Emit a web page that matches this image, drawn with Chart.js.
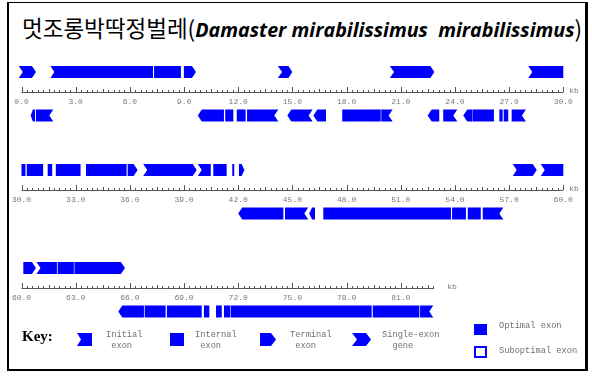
<!DOCTYPE html>
<html>
<head>
<meta charset="utf-8">
<script src="https://cdn.jsdelivr.net/npm/chart.js@4.4.1/dist/chart.umd.min.js"></script>
<style>
  body { margin: 0; width: 592px; height: 376px; position: relative; overflow: hidden; background: #fff; }
  #frame { position: absolute; left: 7px; top: 2px; width: 576px; height: 366px; border-style: solid; border-color: #000; border-width: 1px 3px 2px 2px; }
  #title { position: absolute; left: 22px; top: 12px; white-space: pre; line-height: 30px; }
  #title .ko { font-family: "Noto Sans CJK KR"; font-size: 22.5px; }
  #title .la { font-family: "Open Sans"; font-weight: bold; font-style: italic; font-size: 19.7px; }
  canvas { position: absolute; left: 0; }
  .k { position: absolute; font-family: "Liberation Mono", monospace; font-size: 8.7px; line-height: 11px; color: #707070; white-space: pre; }
  #keyword { position: absolute; left: 22px; top: 328px; font-family: "Liberation Serif"; font-weight: bold; font-size: 15px; }
  svg { position: absolute; left: 0; top: 0; }
</style>
</head>
<body>
<div id="frame"></div>
<div id="title"><span class="ko">멋조롱박딱정벌레(</span><span class="la">Damaster mirabilissimus  mirabilissimus</span><span class="ko">)</span></div>
<canvas id="row0" width="592" height="90" style="top:50px"></canvas>
<canvas id="row1" width="592" height="90" style="top:148px"></canvas>
<canvas id="row2" width="592" height="90" style="top:246px"></canvas>

<svg width="592" height="376">
  <polygon points="77,333 92,333 92,346 77,346 81,339.5" fill="#0000ff"/>
  <rect x="170" y="333" width="14" height="13" fill="#0000ff"/>
  <polygon points="260,333 271,333 276,339.5 271,346 260,346" fill="#0000ff"/>
  <polygon points="352,333 366,333 371,339.5 366,346 352,346 357,339.5" fill="#0000ff"/>
  <rect x="474" y="324" width="13" height="11" fill="#0000ff"/>
  <rect x="475" y="347" width="11" height="10" fill="none" stroke="#0000ff" stroke-width="2"/>
</svg>
<div id="keyword">Key:</div>
<div class="k" style="left:106px;top:330px">Initial
 exon</div>
<div class="k" style="left:195px;top:330px">Internal
 exon</div>
<div class="k" style="left:290px;top:330px">Terminal
 exon</div>
<div class="k" style="left:382px;top:330px">Single-exon
  gene</div>
<div class="k" style="left:499px;top:321px">Optimal exon</div>
<div class="k" style="left:499px;top:346px">Suboptimal exon</div>

<script>
// predicted exons, kb; kinds: I initial, E internal, T terminal, S single-exon gene
const fwdStart = [-0.15, 1.6, 7.34, 8.99, 14.2, 20.4, 28.06,
  30.0, 30.29, 31.45, 31.9, 33.57, 35.88, 36.74, 39.76, 40.62, 41.67, 42.04, 57.2, 58.75,
  60.1, 60.83, 62.0, 62.93];
const fwdEnd = [0.8, 7.28, 8.83, 9.66, 15.0, 22.86, 30.0,
  30.22, 31.2, 31.7, 33.27, 35.82, 36.43, 39.7, 40.48, 41.36, 41.78, 42.34, 58.53, 60.0,
  60.8, 61.96, 62.9, 65.73];
const fwdKind = ['S', 'I', 'E', 'T', 'S', 'S', 'I',
  'E', 'E', 'E', 'E', 'E', 'T', 'S', 'I', 'E', 'E', 'T', 'S', 'I',
  'T', 'I', 'E', 'T'];

const revStart = [0.51, 0.8, 9.76, 11.28, 11.92, 12.49, 14.72, 16.16, 17.76, 19.92, 22.49, 23.35,
  24.46, 25.0, 26.46, 26.7, 27.14,
  42.0, 44.59, 45.93, 46.71, 53.84, 54.71, 55.54,
  65.36, 66.82, 68.05, 70.1, 70.77, 71.21, 71.58, 79.45, 82.07];
const revEnd = [0.75, 1.76, 11.21, 11.73, 12.41, 14.22, 16.12, 16.86, 19.89, 20.55, 23.13, 24.13,
  24.98, 26.16, 26.64, 26.95, 27.93,
  44.5, 45.88, 46.25, 53.78, 54.61, 55.43, 56.68,
  66.78, 67.98, 69.98, 70.4, 71.09, 71.55, 79.39, 82.03, 82.8];
const revKind = ['T', 'I', 'T', 'E', 'E', 'I', 'S', 'T', 'E', 'I', 'T', 'I',
  'T', 'E', 'E', 'E', 'I',
  'T', 'I', 'T', 'E', 'E', 'E', 'I',
  'T', 'E', 'E', 'E', 'E', 'E', 'E', 'E', 'I'];

const strands = ['+', 'axis', '-'];
const rowStarts = [0, 30, 60];
const rowSpan = 30;
const seqLength = 82.85;
const kbGap = [6, 6, 13];

const exonBlue = '#0000ff';

const axisPlugin = {
  id: 'kbAxis',
  afterDraw(chart) {
    const { ctx } = chart;
    const xs = chart.scales.x;
    const ys = chart.scales.y;
    const r = chart.options.rowIndex;
    const from = rowStarts[r];
    const to = Math.min(from + rowSpan, seqLength);
    const baseY = Math.round(ys.getPixelForValue(1)) - 2;

    ctx.save();
    ctx.strokeStyle = '#555';
    ctx.lineWidth = 1;
    ctx.beginPath();
    ctx.moveTo(xs.getPixelForValue(from), baseY + 0.5);
    ctx.lineTo(xs.getPixelForValue(to), baseY + 0.5);
    for (let i = 0; from + i * 0.3 <= to + 1e-6; i++) {
      const px = Math.round(xs.getPixelForValue(from + i * 0.3)) + 0.5;
      const len = i % 10 === 0 ? 5 : (i % 5 === 0 ? 3 : 2);
      ctx.moveTo(px, baseY);
      ctx.lineTo(px, baseY - len);
    }
    ctx.stroke();

    ctx.fillStyle = '#7a7a7a';
    ctx.font = '8px "Liberation Mono"';
    ctx.textAlign = 'center';
    ctx.textBaseline = 'middle';
    for (let v = from; v <= to + 1e-6; v += 3) {
      ctx.fillText(v.toFixed(1), xs.getPixelForValue(v), baseY + 9.5);
    }
    ctx.textAlign = 'left';
    ctx.fillText('kb', xs.getPixelForValue(to) + kbGap[r], baseY - 1);
    ctx.restore();
  }
};

const exonPlugin = {
  id: 'exonShapes',
  afterDatasetsDraw(chart) {
    const { ctx } = chart;
    const ds = chart.data.datasets[0];
    const meta = chart.getDatasetMeta(0);
    ctx.save();
    ctx.fillStyle = exonBlue;
    meta.data.forEach((bar, i) => {
      const p = bar.getProps(['x', 'y', 'base', 'height'], true);
      const left = Math.min(p.x, p.base);
      const right = Math.max(p.x, p.base);
      const top = p.y - p.height / 2;
      const bot = p.y + p.height / 2;
      const mid = p.y;
      const kind = ds.kinds[i];
      const fwd = ds.data[i].y === '+';
      const d = Math.min(4, (right - left) / 2);
      const notch = kind === 'I' || kind === 'S';
      const point = kind === 'T' || kind === 'S';
      ctx.beginPath();
      if (fwd) {
        ctx.moveTo(left, top);
        ctx.lineTo(point ? right - d : right, top);
        if (point) ctx.lineTo(right, mid);
        ctx.lineTo(point ? right - d : right, bot);
        ctx.lineTo(left, bot);
        if (notch) ctx.lineTo(left + d, mid);
      } else {
        ctx.moveTo(right, top);
        ctx.lineTo(point ? left + d : left, top);
        if (point) ctx.lineTo(left, mid);
        ctx.lineTo(point ? left + d : left, bot);
        ctx.lineTo(right, bot);
        if (notch) ctx.lineTo(right - d, mid);
      }
      ctx.closePath();
      ctx.fill();
    });
    ctx.restore();
  }
};

rowStarts.forEach((from, r) => {
  const points = [];
  const kinds = [];
  const rowOf = (s, e) => Math.min(2, Math.max(0, Math.floor(((s + e) / 2) / rowSpan)));
  fwdStart.forEach((s, i) => {
    if (rowOf(s, fwdEnd[i]) === r) { points.push({ x: [s, fwdEnd[i]], y: '+' }); kinds.push(fwdKind[i]); }
  });
  revStart.forEach((s, i) => {
    if (rowOf(s, revEnd[i]) === r) { points.push({ x: [s, revEnd[i]], y: '-' }); kinds.push(revKind[i]); }
  });

  new Chart(document.getElementById('row' + r), {
    type: 'bar',
    data: {
      labels: strands,
      datasets: [{
        data: points,
        kinds: kinds,
        backgroundColor: 'rgba(0,0,0,0)',
        borderWidth: 0,
        barThickness: 12,
        grouped: false
      }]
    },
    options: {
      rowIndex: r,
      indexAxis: 'y',
      responsive: false,
      animation: false,
      layout: { padding: { left: 21.5, right: 28.7, top: 11.1, bottom: 13.65 } },
      scales: {
        x: { type: 'linear', min: from, max: from + rowSpan, display: false },
        y: { type: 'category', display: false }
      },
      plugins: {
        legend: { display: false },
        tooltip: { enabled: false }
      }
    },
    plugins: [axisPlugin, exonPlugin]
  });
});
</script>
</body>
</html>
